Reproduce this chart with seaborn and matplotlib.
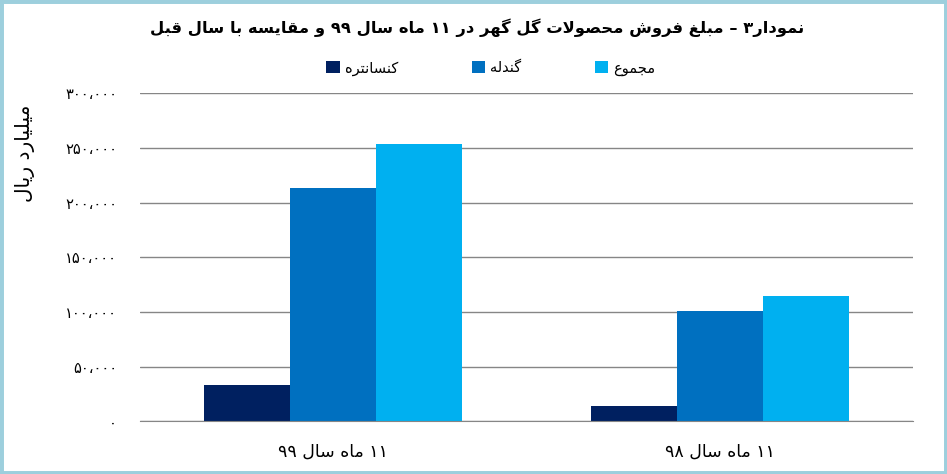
import re
import matplotlib
matplotlib.use("Agg")
import matplotlib.pyplot as plt
from matplotlib.patches import Rectangle
import seaborn as sns
import pandas as pd

# values (billion rials)
periods = ["۱۱ ماه سال ۹۹", "۱۱ ماه سال ۹۸"]
products = ["کنسانتره", "گندله", "مجموع"]
concentrate = [33400, 14200]
pellet = [213700, 101000]
total = [253600, 114800]
yticks = [0, 50000, 100000, 150000, 200000, 250000, 300000]
ytick_labels = ["۰", "۵۰،۰۰۰", "۱۰۰،۰۰۰", "۱۵۰،۰۰۰", "۲۰۰،۰۰۰", "۲۵۰،۰۰۰", "۳۰۰،۰۰۰"]
title = "نمودار۳ – مبلغ فروش محصولات گل گهر در ۱۱ ماه سال ۹۹ و مقایسه با سال قبل"
ylabel = "میلیارد ریال"

colors = ["#002060", "#0070C0", "#00B0F0"]

# matplotlib has no arabic shaping, so pick presentation forms by hand
FORMS = {
    "ا": ("\uFE8D", "\uFE8E"),
    "ب": ("\uFE8F", "\uFE90", "\uFE91", "\uFE92"),
    "ت": ("\uFE95", "\uFE96", "\uFE97", "\uFE98"),
    "ج": ("\uFE9D", "\uFE9E", "\uFE9F", "\uFEA0"),
    "ح": ("\uFEA1", "\uFEA2", "\uFEA3", "\uFEA4"),
    "د": ("\uFEA9", "\uFEAA"),
    "ر": ("\uFEAD", "\uFEAE"),
    "س": ("\uFEB1", "\uFEB2", "\uFEB3", "\uFEB4"),
    "ش": ("\uFEB5", "\uFEB6", "\uFEB7", "\uFEB8"),
    "ص": ("\uFEB9", "\uFEBA", "\uFEBB", "\uFEBC"),
    "ع": ("\uFEC9", "\uFECA", "\uFECB", "\uFECC"),
    "غ": ("\uFECD", "\uFECE", "\uFECF", "\uFED0"),
    "ف": ("\uFED1", "\uFED2", "\uFED3", "\uFED4"),
    "ق": ("\uFED5", "\uFED6", "\uFED7", "\uFED8"),
    "ل": ("\uFEDD", "\uFEDE", "\uFEDF", "\uFEE0"),
    "م": ("\uFEE1", "\uFEE2", "\uFEE3", "\uFEE4"),
    "ن": ("\uFEE5", "\uFEE6", "\uFEE7", "\uFEE8"),
    "ه": ("\uFEE9", "\uFEEA", "\uFEEB", "\uFEEC"),
    "و": ("\uFEED", "\uFEEE"),
    "ک": ("\uFB8E", "\uFB8F", "\uFB90", "\uFB91"),
    "گ": ("\uFB92", "\uFB93", "\uFB94", "\uFB95"),
    "ی": ("\uFBFC", "\uFBFD", "\uFBFE", "\uFBFF"),
}


def fa(text):
    out = []
    i = 0
    while i < len(text):
        c = text[i]
        if c not in FORMS:
            out.append(c)
            i += 1
            continue
        prev_j = i > 0 and len(FORMS.get(text[i - 1], ())) == 4
        nxt = text[i + 1] if i + 1 < len(text) else ""
        if c == "ل" and nxt == "ا":
            out.append("\uFEFC" if prev_j else "\uFEFB")
            i += 2
            continue
        f = FORMS[c]
        next_j = len(f) == 4 and nxt in FORMS
        if prev_j and next_j:
            out.append(f[3])
        elif prev_j:
            out.append(f[1])
        elif next_j:
            out.append(f[2])
        else:
            out.append(f[0])
        i += 1
    tokens = re.findall(r"[۰-۹0-9،,]+|.", "".join(out))
    return "".join(reversed(tokens))


df = pd.DataFrame({
    "period": periods * 3,
    "product": [products[0]] * 2 + [products[1]] * 2 + [products[2]] * 2,
    "value": concentrate + pellet + total,
})

sns.set_style("white")
plt.rcParams["font.family"] = ["DejaVu Sans"]
plt.rcParams["text.color"] = "black"
plt.rcParams["xtick.color"] = "black"
plt.rcParams["ytick.color"] = "black"

fig = plt.figure(figsize=(9.47, 4.74), dpi=100)
ax = fig.add_axes([0.1478, 0.1108, 0.8163, 0.6924])

sns.barplot(data=df, x="period", y="value", hue="product",
            order=periods, hue_order=products, palette=colors,
            width=0.667, saturation=1, linewidth=0, ax=ax)

ax.set_ylim(0, 300000)
ax.set_xlim(-0.5, 1.5)
ax.set_yticks(yticks)
ax.set_yticklabels(ytick_labels, fontsize=10.5)
ax.set_xticks(range(len(periods)))
ax.set_xticklabels([fa(p) for p in periods], fontsize=12.5)
ax.set_xticks([-0.5, 0.5, 1.5], minor=True)
ax.tick_params(axis="x", which="major", length=0, pad=15)
ax.tick_params(axis="x", which="minor", length=5, color="#868686", width=1, direction="out")
ax.tick_params(axis="y", length=0, pad=16.5)
ax.yaxis.grid(True, color="#868686", linewidth=1)
ax.set_axisbelow(True)
for s in ["left", "right", "top"]:
    ax.spines[s].set_visible(False)
ax.spines["bottom"].set_color("#868686")
ax.set_xlabel("")
ax.set_ylabel("")

handles, _ = ax.get_legend_handles_labels()
ax.legend(handles, [fa(p) for p in products], ncol=3, frameon=False,
          loc="center", bbox_to_anchor=(491 / 947, 1 - 68 / 474),
          bbox_transform=fig.transFigure, fontsize=10.5,
          handlelength=0.9, handleheight=0.9, handletextpad=0.4,
          columnspacing=5.0)

fig.text(477 / 947, 1 - 28 / 474, fa(title), ha="center", va="center",
         fontsize=11.8, fontweight="bold", color="black")
fig.text(25 / 947, 1 - 153 / 474, fa(ylabel), ha="center", va="center",
         rotation=90, fontsize=14.5, color="black")

fig.add_artist(Rectangle((0, 0), 1, 1, transform=fig.transFigure, fill=False,
                         edgecolor="#9dcfdd", linewidth=5))

fig.savefig("out.png", dpi=100)
